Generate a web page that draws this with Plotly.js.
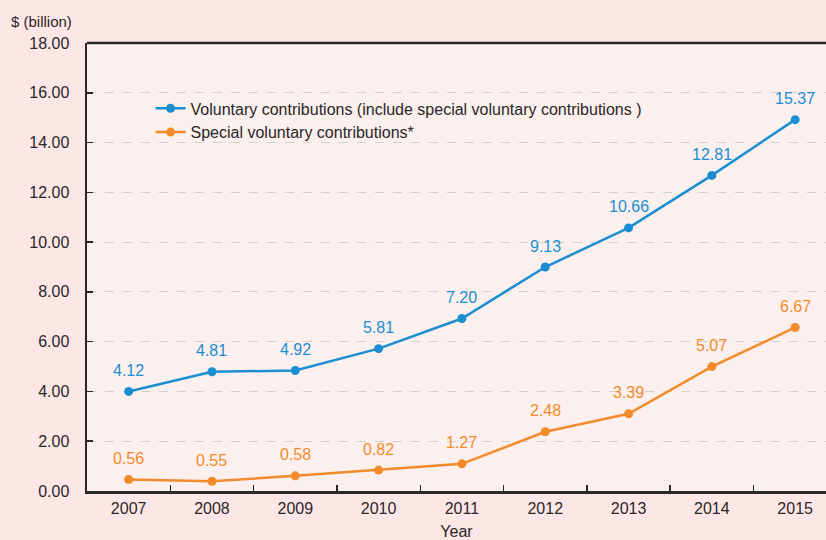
<!DOCTYPE html>
<html><head><meta charset="utf-8">
<script src="https://cdn.plot.ly/plotly-3.0.1.min.js"></script>
<style>html,body{margin:0;padding:0;background:#fde7e6;}#chart{width:826px;height:540px;}</style>
</head><body><div id="chart"></div>
<script>
const years = ['2007','2008','2009','2010','2011','2012','2013','2014','2015'];
const voluntaryValues = [4.00, 4.79, 4.84, 5.72, 6.93, 9.00, 10.57, 12.68, 14.92];
const voluntaryLabels = ['4.12','4.81','4.92','5.81','7.20','9.13','10.66','12.81','15.37'];
const specialValues = [0.46, 0.39, 0.61, 0.84, 1.09, 2.38, 3.10, 5.00, 6.57];
const specialLabels = ['0.56','0.55','0.58','0.82','1.27','2.48','3.39','5.07','6.67'];
const yTicks = [0,2,4,6,8,10,12,14,16,18];

const BLUE = '#1b8ed1', ORANGE = '#f38a2b', DARK = '#2b2627';
const FONT = 'Liberation Sans, Arial, sans-serif';

const traces = [
  {x: years, y: voluntaryValues, mode: 'lines+markers', name: 'Voluntary contributions (include special voluntary contributions )',
   line: {color: BLUE, width: 2.5}, marker: {color: BLUE, size: 9}},
  {x: years, y: specialValues, mode: 'lines+markers', name: 'Special voluntary contributions*',
   line: {color: ORANGE, width: 2.5}, marker: {color: ORANGE, size: 9}}
];

const labelAnnotations = [];
years.forEach((yr, i) => {
  labelAnnotations.push({xref: 'x', yref: 'y', x: i, y: voluntaryValues[i], text: voluntaryLabels[i], showarrow: false,
    yshift: 21, font: {color: BLUE, size: 16, family: FONT}});
  labelAnnotations.push({xref: 'x', yref: 'y', x: i, y: specialValues[i], text: specialLabels[i], showarrow: false,
    yshift: 21, font: {color: ORANGE, size: 16, family: FONT}});
});

const layout = {
  width: 826, height: 540,
  margin: {l: 87, r: 0, t: 43, b: 48.5},
  paper_bgcolor: '#fde7e6', plot_bgcolor: '#fbf0ee',
  font: {family: FONT, size: 16, color: DARK},
  showlegend: true,
  legend: {x: 0.086, xanchor: 'left', y: 0.892, yanchor: 'top', bgcolor: 'rgba(0,0,0,0)',
           font: {size: 16, family: FONT}, tracegroupgap: 0},
  xaxis: {type: 'category', range: [-0.5, 8.37], showgrid: false, showline: true, linecolor: DARK, linewidth: 2.5,
          ticks: 'inside', tickson: 'boundaries', ticklen: 6, tickwidth: 1.5, tickcolor: DARK,
          tickfont: {size: 16, color: DARK}, ticklabelstandoff: 1,
          title: {text: 'Year', font: {size: 16, color: DARK}, standoff: 11}, zeroline: false, fixedrange: true},
  yaxis: {range: [0, 18], tickvals: yTicks, tickformat: '.2f', showgrid: true, gridcolor: '#d4cfcf', griddash: 'dash', gridwidth: 1,
          showline: true, linecolor: DARK, linewidth: 2.5, ticks: 'inside', ticklen: 6, tickwidth: 1.5, tickcolor: DARK,
          tickfont: {size: 16, color: DARK}, ticklabelstandoff: 12, zeroline: false, fixedrange: true},
  shapes: [{type: 'line', xref: 'paper', yref: 'paper', x0: 0, x1: 1, y0: 1, y1: 1, line: {color: DARK, width: 2.5}}],
  annotations: [{text: '$ (billion)', xref: 'paper', yref: 'paper', x: -0.105, y: 1.048, xanchor: 'left', yanchor: 'middle',
                 showarrow: false, font: {size: 15, color: DARK}}].concat(labelAnnotations)
};

Plotly.newPlot('chart', traces, layout, {displayModeBar: false, staticPlot: true});
</script></body></html>
